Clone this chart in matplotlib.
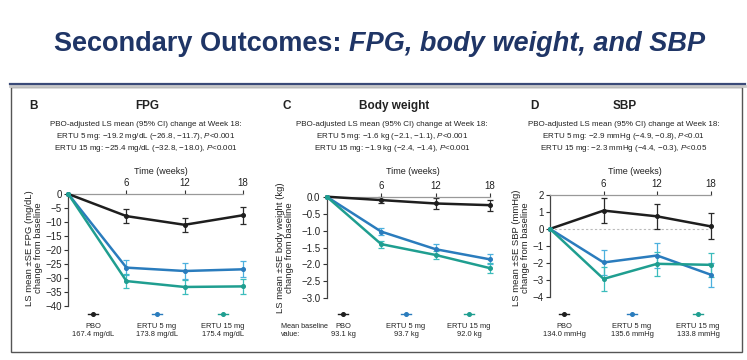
import matplotlib
matplotlib.use("Agg")
import matplotlib.pyplot as plt
from matplotlib.lines import Line2D
from matplotlib.patches import Rectangle

W, H = 747, 360
FONT = ["Liberation Sans Narrow", "Liberation Sans", "DejaVu Sans"]
plt.rcParams["font.family"] = FONT
plt.rcParams["mathtext.fontset"] = "custom"
plt.rcParams["mathtext.it"] = "Liberation Sans:italic"
plt.rcParams["mathtext.rm"] = "Liberation Sans"

weeks = [0, 6, 12, 18]
groups = ["PBO", "ERTU 5 mg", "ERTU 15 mg"]

# FPG (mg/dL)
fpg_mean = {"PBO": [0, -7.9, -11.0, -7.6],
            "ERTU 5 mg": [0, -26.3, -27.5, -26.9],
            "ERTU 15 mg": [0, -31.1, -33.2, -33.0]}
fpg_se = {"PBO": [0, 2.5, 2.6, 3.0],
          "ERTU 5 mg": [0, 2.6, 2.7, 2.8],
          "ERTU 15 mg": [0, 2.4, 2.6, 2.8]}
fpg_base = ["167.4 mg/dL", "173.8 mg/dL", "175.4 mg/dL"]

# Body weight (kg)
bw_mean = {"PBO": [0, -0.10, -0.20, -0.25],
           "ERTU 5 mg": [0, -1.03, -1.55, -1.85],
           "ERTU 15 mg": [0, -1.40, -1.72, -2.11]}
bw_se = {"PBO": [0, 0.09, 0.15, 0.16],
         "ERTU 5 mg": [0, 0.10, 0.15, 0.15],
         "ERTU 15 mg": [0, 0.10, 0.12, 0.15]}
bw_base = ["93.1 kg", "93.7 kg", "92.0 kg"]

# SBP (mmHg)
sbp_mean = {"PBO": [0, 1.08, 0.74, 0.15],
            "ERTU 5 mg": [0, -1.98, -1.57, -2.70],
            "ERTU 15 mg": [0, -2.95, -2.06, -2.12]}
sbp_se = {"PBO": [0, 0.72, 0.74, 0.77],
          "ERTU 5 mg": [0, 0.72, 0.74, 0.70],
          "ERTU 15 mg": [0, 0.70, 0.70, 0.72]}
sbp_base = ["134.0 mmHg", "135.6 mmHg", "133.8 mmHg"]

line_col = {"PBO": "#1e1e1e", "ERTU 5 mg": "#2a7cbd", "ERTU 15 mg": "#1f9e90"}
err_col = {"PBO": "#2a2a2a", "ERTU 5 mg": "#4cb0de", "ERTU 15 mg": "#3bbcbc"}

TITLE_COL = "#1f3566"


def fx(x):
    return x / W


def fy(y):
    return 1 - y / H


fig = plt.figure(figsize=(W / 100, H / 100), dpi=100, facecolor="white")

# title (two parts, centred as a whole) + rule
t1 = fig.text(0, fy(44), "Secondary Outcomes: ", ha="left", va="center",
              fontsize=19.5, fontweight="bold", color=TITLE_COL)
t2 = fig.text(0, fy(44), "FPG, body weight, and SBP", ha="left",
              va="center", fontsize=19.5, fontweight="bold", style="italic",
              color=TITLE_COL)
fig.canvas.draw()
w1 = t1.get_window_extent().width
w2 = t2.get_window_extent().width
start = 380 - (w1 + w2) / 2
t1.set_x(fx(start))
t2.set_x(fx(start + w1))

fig.add_artist(Line2D([fx(10), fx(745)], [fy(86), fy(86)], color="#c8c8c8",
                      lw=2.0))
fig.add_artist(Line2D([fx(10), fx(745)], [fy(84), fy(84)], color="#3a4a78",
                      lw=1.6))
fig.add_artist(Rectangle((fx(11), fy(352)), fx(731), fy(87) - fy(352),
                         fill=False, edgecolor="#555555", lw=1.0))

panels = [
    dict(letter="B", name="FPG", mean=fpg_mean, se=fpg_se, base=fpg_base,
         ylim=(-40, 0), yticks=list(range(0, -45, -5)), fmt="{:g}",
         box=(68.3, 242.7, 194, 306), letter_x=33, name_x=147, txt_x=146,
         ylab="LS mean \u00b1SE FPG (mg/dL)\nchange from baseline", ylab_x=34,
         lines=["PBO-adjusted LS mean (95% CI) change at Week 18:",
                "ERTU 5 mg: \u221219.2 mg/dL (\u221226.8, \u221211.7), $\\it{P}$<0.001",
                "ERTU 15 mg: \u221225.4 mg/dL (\u221232.8, \u221218.0), $\\it{P}$<0.001"],
         leg_x=[93, 157, 223], zero=False),
    dict(letter="C", name="Body weight", mean=bw_mean, se=bw_se, base=bw_base,
         ylim=(-3, 0), yticks=[0, -0.5, -1, -1.5, -2, -2.5, -3], fmt="{:.1f}",
         box=(326.7, 490, 196.7, 298.3), letter_x=287, name_x=394, txt_x=392,
         ylab="LS mean \u00b1SE body weight (kg)\nchange from baseline", ylab_x=285,
         lines=["PBO-adjusted LS mean (95% CI) change at Week 18:",
                "ERTU 5 mg: \u22121.6 kg (\u22122.1, \u22121.1), $\\it{P}$<0.001",
                "ERTU 15 mg: \u22121.9 kg (\u22122.4, \u22121.4), $\\it{P}$<0.001"],
         leg_x=[343, 406, 469], zero=False),
    dict(letter="D", name="SBP", mean=sbp_mean, se=sbp_se, base=sbp_base,
         ylim=(-4, 2), yticks=[2, 1, 0, -1, -2, -3, -4], fmt="{:g}",
         box=(550, 710.7, 195, 296.7), letter_x=534, name_x=625, txt_x=624,
         ylab="LS mean \u00b1SE SBP (mmHg)\nchange from baseline", ylab_x=521,
         lines=["PBO-adjusted LS mean (95% CI) change at Week 18:",
                "ERTU 5 mg: \u22122.9 mmHg (\u22124.9, \u22120.8), $\\it{P}$<0.01",
                "ERTU 15 mg: \u22122.3 mmHg (\u22124.4, \u22120.3), $\\it{P}$<0.05"],
         leg_x=[564, 632, 698], zero=True),
]

for p in panels:
    x0, x1, y0, y1 = p["box"]
    ax = fig.add_axes([fx(x0), fy(y1), (x1 - x0) / W, (y1 - y0) / H])
    ax.set_facecolor("none")
    for g in groups:
        ax.errorbar(weeks[1:], p["mean"][g][1:], yerr=p["se"][g][1:],
                    fmt="none", ecolor=err_col[g], elinewidth=0.9, capsize=2.2,
                    capthick=0.9, clip_on=False, zorder=2)
        ax.plot(weeks, p["mean"][g], "-o", color=line_col[g], lw=1.8, ms=2.6,
                clip_on=False, zorder=3)
    if p["zero"]:
        ax.axhline(0, color="#bbbbbb", lw=0.8, ls=(0, (2, 2)), zorder=1)
    ax.set_xlim(0, 18)
    ax.set_ylim(*p["ylim"])
    ax.set_xticks([6, 12, 18])
    ax.xaxis.tick_top()
    ax.set_yticks(p["yticks"])
    ax.set_yticklabels([p["fmt"].format(v).replace("-", "\u2212")
                        for v in p["yticks"]])
    ax.tick_params(axis="x", labelsize=7, length=3, width=0.8, pad=1,
                   colors="#333333", labelcolor="#222222")
    ax.tick_params(axis="y", labelsize=7, length=3, width=0.8, pad=1.5,
                   colors="#333333", labelcolor="#222222")
    for s in ["right", "bottom"]:
        ax.spines[s].set_visible(False)
    ax.spines["top"].set_color("#999999")
    ax.spines["left"].set_color("#444444")
    ax.spines["top"].set_linewidth(0.9)
    ax.spines["left"].set_linewidth(0.9)

    # headers
    fig.text(fx(p["letter_x"]), fy(106), p["letter"], ha="center", va="center",
             fontsize=8.5, fontweight="bold", color="#222222")
    fig.text(fx(p["name_x"]), fy(106), p["name"], ha="center", va="center",
             fontsize=8.5, fontweight="bold", color="#222222")
    for i, s in enumerate(p["lines"]):
        fig.text(fx(p["txt_x"]), fy(124 + 12.5 * i), s, ha="center",
                 va="center", fontsize=5.8, color="#222222")
    fig.text(fx((x0 + x1) / 2 + 5), fy(171), "Time (weeks)", ha="center",
             va="center", fontsize=6.5, color="#222222")
    fig.text(fx(p["ylab_x"]), fy(248), p["ylab"], ha="center", va="center",
             rotation=90, fontsize=6.8, color="#222222", linespacing=0.95)

    # legend glyphs and baseline values
    for g, lx, b in zip(groups, p["leg_x"], p["base"]):
        fig.add_artist(Line2D([fx(lx - 5), fx(lx + 5)], [fy(314), fy(314)],
                              color=line_col[g], lw=1.0))
        fig.add_artist(Line2D([fx(lx)], [fy(314)], marker="o", ms=2.6,
                              color=line_col[g]))
        fig.text(fx(lx), fy(331), f"{g}\n{b}", ha="center", va="center",
                 fontsize=5.4, color="#222222", linespacing=1.2)
    if p["letter"] == "C":
        fig.text(fx(281), fy(331), "Mean baseline\nvalue:", ha="left",
                 va="center", fontsize=5.2, color="#222222", linespacing=1.2)

fig.savefig("out.png", dpi=100, facecolor="white")
